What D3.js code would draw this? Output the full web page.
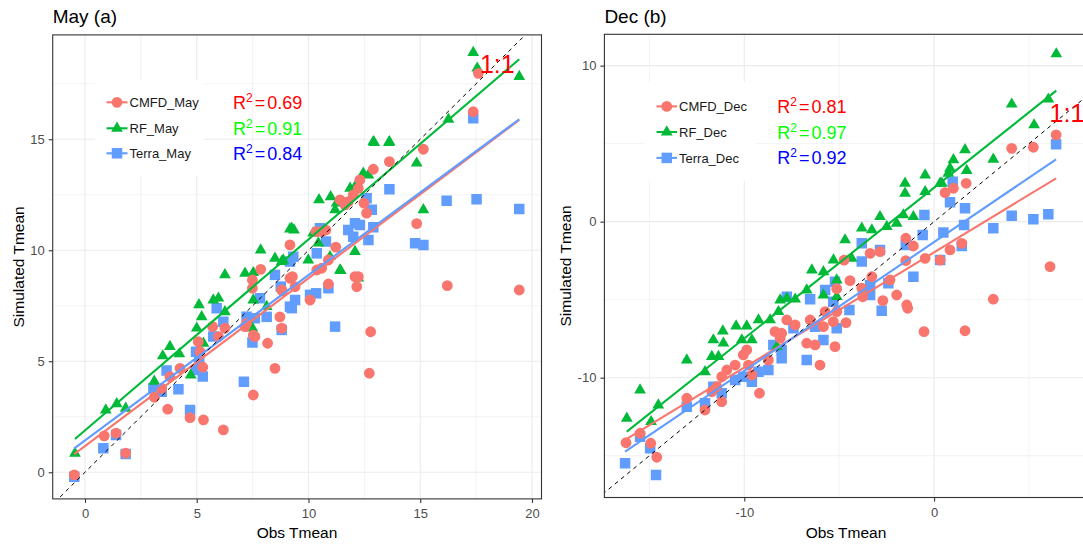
<!DOCTYPE html>
<html><head><meta charset="utf-8">
<script src="https://cdn.jsdelivr.net/npm/d3@7"></script>
<style>
body{margin:0;background:#fff}
svg{display:block;font-family:Arial,"Liberation Sans",sans-serif}
</style>
</head><body>
<svg id="c" width="1083" height="545"></svg>
<script>
// ---------------- DATA ----------------
// Panel (a) May : [observed, simulated]
const mayCMFD = [[-0.48,-0.12],[0.86,1.64],[1.39,1.76],[1.82,0.86],[3.1,3.38],[3.7,2.84],[3.43,3.78],[3.8,4.31],[4.25,4.68],[4.7,2.46],[5.3,2.36],[6.19,1.91],[5.07,5.88],[5.15,5.43],[5.27,4.73],[5.71,6.56],[5.97,6.11],[6.26,6.49],[7.16,6.56],[7.23,6.71],[7.53,6.18],[7.6,6.11],[8.17,5.81],[7.53,3.48],[8.5,4.68],[8.72,7.0],[8.8,6.49],[8.83,8.17],[7.49,8.66],[7.49,8.29],[7.86,9.14],[9.17,10.24],[9.17,8.74],[13.62,13.99],[12.9,13.65],[12.3,13.17],[12.23,12.79],[12.0,12.49],[11.41,12.27],[11.63,12.04],[11.78,12.19],[12.48,12.12],[12.6,11.67],[10.34,10.84],[10.59,10.84],[10.78,10.91],[11.22,10.14],[9.28,8.81],[8.8,8.21],[9.4,8.36],[10.37,9.11],[10.59,9.19],[10.89,9.56],[10.89,8.48],[10.07,7.76],[12.08,8.81],[12.23,8.81],[12.16,8.36],[17.6,17.97],[17.37,16.24],[15.14,14.55],[14.84,11.2],[16.21,8.41],[19.43,8.21],[12.78,6.33],[12.72,4.46]];
const mayRF = [[-0.45,0.85],[0.93,2.8],[1.42,3.08],[1.82,2.88],[3.1,4.1],[3.48,5.24],[3.8,5.66],[4.22,5.33],[4.73,4.38],[5.1,7.54],[5.22,7.0],[5.0,6.49],[5.3,5.81],[5.74,7.76],[5.97,7.84],[6.26,8.89],[6.26,7.23],[7.16,8.96],[7.53,8.99],[7.86,10.01],[7.53,7.76],[8.13,7.46],[8.5,9.64],[8.87,9.56],[9.17,10.95],[7.49,6.49],[12.9,14.89],[13.62,14.89],[12.45,13.47],[12.68,13.39],[11.86,12.79],[12.08,12.86],[10.47,12.27],[10.99,12.41],[11.19,11.82],[11.26,12.12],[9.25,10.99],[9.35,10.91],[10.21,10.77],[10.44,10.32],[8.8,9.49],[9.99,9.56],[10.96,9.71],[11.41,9.11],[12.08,9.94],[12.23,8.74],[17.37,18.9],[17.55,18.2],[19.43,17.82],[16.26,15.9],[14.84,13.92],[12.94,14.85],[13.6,14.85],[15.14,11.82],[11.44,9.08]];
const mayTerra = [[-0.48,-0.2],[0.82,1.08],[1.39,1.68],[1.82,0.82],[3.06,3.78],[3.43,3.63],[3.65,4.58],[4.18,3.74],[4.7,2.8],[4.97,5.43],[5.11,4.98],[4.97,4.61],[5.27,4.31],[5.89,7.39],[5.74,6.11],[6.19,6.78],[7.11,4.08],[7.23,7.0],[7.6,6.94],[7.49,5.84],[8.13,7.0],[7.83,7.84],[8.5,8.89],[8.76,8.36],[8.8,6.41],[9.17,7.46],[9.17,9.49],[13.62,12.75],[12.6,12.34],[12.83,11.82],[12.08,11.22],[11.78,10.91],[12.3,11.14],[12.9,11.04],[12.68,10.46],[12.0,10.61],[10.51,10.99],[10.78,10.39],[10.37,9.86],[9.32,9.71],[9.4,7.76],[10.07,7.99],[10.34,8.06],[10.89,8.29],[9.25,7.39],[17.37,15.95],[16.18,12.23],[17.52,12.3],[19.43,11.86],[14.77,10.32],[15.14,10.24],[11.19,6.56]];
// fitted (lm) lines: [x start, y start], [x end, y end]
const mayFitCMFD = [[-0.48,0.82],[19.43,15.87]];
const mayFitRF = [[-0.45,1.5],[19.43,18.6]];
const mayFitTerra = [[-0.48,1.08],[19.43,15.9]];

// Panel (b) Dec : [observed, simulated]
const decCMFD = [[-16.23,-14.17],[-15.49,-13.56],[-14.93,-14.2],[-14.61,-15.1],[-13.03,-11.32],[-12.07,-12.07],[-11.71,-10.9],[-11.45,-10.58],[-11.19,-9.94],[-11.19,-11.54],[-10.92,-9.51],[-10.48,-9.19],[-10.05,-8.54],[-9.87,-8.22],[-9.78,-9.19],[-9.6,-9.83],[-9.2,-11.0],[-8.73,-8.87],[-8.38,-7.05],[-8.03,-7.15],[-8.11,-7.47],[-7.76,-6.3],[-7.32,-6.62],[-6.71,-7.79],[-6.27,-7.9],[-6.01,-9.19],[-6.53,-6.3],[-5.83,-6.73],[-5.22,-8.01],[-5.31,-6.41],[-5.13,-5.77],[-5.74,-5.77],[-4.64,-6.47],[-5.13,-4.3],[1.02,2.14],[0.58,1.86],[-1.49,-1.06],[-1.09,-1.56],[-2.85,-1.92],[-3.37,-2.03],[-4.74,-2.46],[-1.49,-2.5],[-0.47,-2.35],[0.84,-1.81],[0.32,-2.46],[-4.43,-3.78],[-3.28,-3.53],[-3.81,-4.27],[-3.76,-4.81],[-2.32,-3.74],[-1.97,-4.7],[-2.7,-5.06],[-1.44,-5.34],[-1.39,-5.55],[-0.53,-7.05],[6.43,5.56],[4.09,4.7],[5.23,4.77],[6.11,-2.88],[3.12,-4.97],[1.63,-6.99],[1.69,2.46],[1.46,-1.39]];
const decRF = [[-16.19,-12.6],[-15.49,-10.79],[-14.53,-11.75],[-14.91,-12.82],[-13.03,-8.87],[-12.07,-9.62],[-11.63,-7.58],[-11.13,-7.01],[-11.1,-7.79],[-11.36,-8.65],[-11.71,-8.65],[-10.43,-6.69],[-9.87,-6.69],[-10.13,-7.58],[-9.6,-7.58],[-9.25,-6.3],[-8.64,-6.3],[-8.2,-5.77],[-8.11,-5.02],[-7.76,-4.91],[-7.32,-4.97],[-8.29,-8.01],[-6.71,-4.38],[-6.44,-3.1],[-5.83,-3.21],[-5.3,-2.46],[-5.83,-4.7],[-5.13,-4.81],[-0.47,2.99],[-1.53,2.46],[-1.53,1.82],[-0.47,1.92],[0.32,2.46],[0.75,3.1],[-2.85,0.32],[-2.49,-0.32],[-1.62,0.43],[-1.09,0.32],[-1.97,-0.1],[-3.28,-0.53],[-3.81,-0.42],[-4.69,-1.17],[-5.13,-3.74],[-4.34,-2.35],[6.44,10.75],[4.09,7.53],[6.02,7.85],[5.27,6.2],[3.12,4.0],[1.63,4.6],[1.02,3.96],[0.84,3.42],[1.72,3.27],[0.41,2.46]];
const decTerra = [[-16.28,-15.49],[-14.65,-16.24],[-15.49,-13.78],[-14.96,-14.53],[-13.03,-11.86],[-12.07,-11.64],[-11.63,-10.58],[-11.19,-11.0],[-10.48,-10.15],[-10.05,-9.94],[-9.6,-10.26],[-9.25,-9.62],[-8.73,-9.51],[-8.47,-7.9],[-8.03,-8.76],[-8.03,-8.22],[-7.76,-4.81],[-7.41,-6.83],[-6.71,-8.87],[-6.53,-4.97],[-6.27,-6.73],[-5.83,-7.58],[-5.74,-4.38],[-5.31,-5.13],[-5.13,-6.83],[-5.22,-3.85],[0.84,1.24],[-0.51,0.43],[-0.6,-0.85],[0.49,-0.7],[-1.49,-1.49],[-2.85,-1.81],[-3.81,-1.38],[-3.81,-2.56],[-1.09,-3.53],[-2.41,-3.95],[-3.37,-4.06],[-3.37,-4.7],[-2.76,-5.71],[-4.46,-5.66],[0.32,-2.46],[6.43,4.96],[6.02,0.47],[5.23,0.15],[4.09,0.38],[3.12,-0.42],[1.63,0.86],[0.98,2.56],[1.58,-0.21],[1.46,-1.56]];
const decFitCMFD = [[-16.23,-13.95],[6.43,2.78]];
const decFitRF = [[-16.19,-13.46],[6.44,8.4]];
const decFitTerra = [[-16.28,-14.74],[6.43,4.0]];

const mayNames = ["CMFD_May","RF_May","Terra_May"];
const decNames = ["CMFD_Dec","RF_Dec","Terra_Dec"];
const mayR2 = ["0.69","0.91","0.84"];
const decR2 = ["0.81","0.97","0.92"];
const mayXTicks = [0,5,10,15,20];
const mayYTicks = [0,5,10,15];
const decXTicks = [-10,0];
const decYTicks = [-10,0,10];
const titles = ["May (a)","Dec (b)"];
const xTitle = "Obs Tmean";
const yTitle = "Simulated Tmean";
const oneToOne = "1:1";

// ---------------- STYLE ----------------
const seriesColors = ["#F8766D","#00BA38","#619CFF"];
const r2Colors = ["#FF0000","#00FF00","#0000FF"];
const shapes = [d3.symbolCircle, d3.symbolTriangle, d3.symbolSquare];
const shapeSizes = [92, 60, 110];

const svg = d3.select("#c");
const defs = svg.append("defs");

function drawPanel(cfg){
  const b=cfg.box;
  const x=d3.scaleLinear().domain(cfg.xDomain).range([b.x0,b.x1]);
  const y=d3.scaleLinear().domain(cfg.yDomain).range([b.y1,b.y0]);
  const g=svg.append("g");
  defs.append("clipPath").attr("id","clip"+cfg.id).append("rect")
    .attr("x",b.x0).attr("y",b.y0).attr("width",b.x1-b.x0).attr("height",b.y1-b.y0);
  const inner=g.append("g").attr("clip-path",`url(#clip${cfg.id})`);

  // grid
  const xs=cfg.xStep, ys=cfg.yStep;
  const xMajorAll=d3.range(Math.floor(cfg.xDomain[0]/xs)*xs, cfg.xDomain[1]+xs, xs);
  const yMajorAll=d3.range(Math.floor(cfg.yDomain[0]/ys)*ys, cfg.yDomain[1]+ys, ys);
  const xMinor=xMajorAll.map(v=>v+xs/2), yMinor=yMajorAll.map(v=>v+ys/2);
  inner.selectAll(".gxm").data(xMinor).enter().append("line")
    .attr("x1",d=>x(d)).attr("x2",d=>x(d)).attr("y1",b.y0).attr("y2",b.y1)
    .attr("stroke","#EBEBEB").attr("stroke-width",0.6);
  inner.selectAll(".gym").data(yMinor).enter().append("line")
    .attr("y1",d=>y(d)).attr("y2",d=>y(d)).attr("x1",b.x0).attr("x2",b.x1)
    .attr("stroke","#EBEBEB").attr("stroke-width",0.6);
  inner.selectAll(".gx").data(xMajorAll).enter().append("line")
    .attr("x1",d=>x(d)).attr("x2",d=>x(d)).attr("y1",b.y0).attr("y2",b.y1)
    .attr("stroke","#EBEBEB").attr("stroke-width",1.1);
  inner.selectAll(".gy").data(yMajorAll).enter().append("line")
    .attr("y1",d=>y(d)).attr("y2",d=>y(d)).attr("x1",b.x0).attr("x2",b.x1)
    .attr("stroke","#EBEBEB").attr("stroke-width",1.1);

  // points (Terra, RF, CMFD order)
  [2,1,0].forEach(i=>{
    inner.append("g").selectAll("path").data(cfg.series[i]).enter().append("path")
      .attr("d",d3.symbol().type(shapes[i]).size(shapeSizes[i]))
      .attr("transform",d=>`translate(${x(d[0])},${y(d[1])})`)
      .attr("fill",seriesColors[i]);
  });
  // fitted lines
  const line=d3.line().x(d=>x(d[0])).y(d=>y(d[1]));
  [0,2,1].forEach(i=>{
    inner.append("path").attr("d",line(cfg.fits[i]))
      .attr("stroke",seriesColors[i]).attr("stroke-width",2.1).attr("fill","none");
  });
  // 1:1 line
  const lo=Math.min(cfg.xDomain[0],cfg.yDomain[0])-5, hi=Math.max(cfg.xDomain[1],cfg.yDomain[1])+5;
  inner.append("path").attr("d",line([[lo,lo],[hi,hi]]))
    .attr("stroke","#000").attr("stroke-width",1).attr("stroke-dasharray","4,4").attr("fill","none");
  inner.append("text").attr("x",x(cfg.oneLabel[0])).attr("y",y(cfg.oneLabel[1])).attr("dy","0.36em")
    .attr("text-anchor","middle").attr("font-size",25).attr("fill","#FF0000").text(oneToOne);

  // border
  g.append("rect").attr("x",b.x0).attr("y",b.y0).attr("width",b.x1-b.x0).attr("height",b.y1-b.y0)
    .attr("fill","none").attr("stroke","#333").attr("stroke-width",1.1);

  // axes
  const ax=g.append("g").attr("transform",`translate(0,${b.y1})`)
    .call(d3.axisBottom(x).tickValues(cfg.xTicks).tickSize(4).tickPadding(6));
  const ay=g.append("g").attr("transform",`translate(${b.x0},0)`)
    .call(d3.axisLeft(y).tickValues(cfg.yTicks).tickSize(4).tickPadding(4));
  [ax,ay].forEach(a=>{
    a.select(".domain").remove();
    a.selectAll(".tick line").attr("stroke","#333").attr("stroke-width",1.1);
    a.selectAll(".tick text").attr("fill","#4D4D4D").attr("font-size",13)
      .attr("font-family","Arial, 'Liberation Sans', sans-serif")
      .text(d=>String(d));
  });

  // titles
  g.append("text").attr("x",b.x0).attr("y",23).attr("font-size",19).attr("fill","#000").text(cfg.title);
  g.append("text").attr("x",cfg.xTitleX).attr("y",538).attr("text-anchor","middle")
    .attr("font-size",15.5).attr("fill","#000").text(xTitle);
  g.append("text").attr("transform",`translate(${cfg.yTitleX},${(b.y0+b.y1)/2}) rotate(-90)`)
    .attr("text-anchor","middle").attr("font-size",15.5).attr("fill","#000").text(yTitle);

  // legend
  const L=cfg.legend;
  g.append("rect").attr("x",L.bx0).attr("y",L.by0).attr("width",L.bx1-L.bx0).attr("height",L.by1-L.by0).attr("fill","#fff");
  cfg.names.forEach((nm,i)=>{
    const cy=L.ys[i];
    g.append("line").attr("x1",L.kx0).attr("x2",L.kx1).attr("y1",cy).attr("y2",cy)
      .attr("stroke",seriesColors[i]).attr("stroke-width",2.1);
    g.append("path").attr("d",d3.symbol().type(shapes[i]).size(shapeSizes[i]))
      .attr("transform",`translate(${(L.kx0+L.kx1)/2},${cy})`).attr("fill",seriesColors[i]);
    g.append("text").attr("x",L.tx).attr("y",cy+4.7).attr("font-size",13).attr("fill","#1A1A1A").text(nm);
    const t=g.append("text").attr("x",L.rx).attr("y",cy+6.5).attr("font-size",18).attr("fill",r2Colors[i]);
    t.append("tspan").text("R");
    t.append("tspan").attr("font-size",12).attr("dy",-7).text("2");
    t.append("tspan").attr("dy",7).attr("dx",2).text("=");
    t.append("tspan").attr("dx",2).text(cfg.r2[i]);
  });
}

drawPanel({
  id:"a", title:titles[0],
  box:{x0:52.7,x1:541.5,y0:34.9,y1:498.9},
  xDomain:[-1.445,20.425], yDomain:[-1.2,19.7], xStep:5, yStep:5,
  xTicks:mayXTicks, yTicks:mayYTicks,
  series:[mayCMFD,mayRF,mayTerra], fits:[mayFitCMFD,mayFitRF,mayFitTerra],
  names:mayNames, r2:mayR2,
  oneLabel:[18.45,18.4], xTitleX:297, yTitleX:23.5,
  legend:{bx0:95,bx1:204,by0:80,by1:176,ys:[102.3,128.3,153.3],kx0:106.5,kx1:127.5,tx:129.5,rx:233}
});
drawPanel({
  id:"b", title:titles[1],
  box:{x0:604.4,x1:1088,y0:34.3,y1:497.5},
  xDomain:[-17.37,8.11], yDomain:[-17.68,12.01], xStep:10, yStep:10,
  xTicks:decXTicks, yTicks:decYTicks,
  series:[decCMFD,decRF,decTerra], fits:[decFitCMFD,decFitRF,decFitTerra],
  names:decNames, r2:decR2,
  oneLabel:[7,6.95], xTitleX:846, yTitleX:570.5,
  legend:{bx0:645.5,bx1:756,by0:82,by1:181,ys:[106.4,132,157.9],kx0:656.5,kx1:677,tx:679,rx:777.3}
});
</script>
</body></html>
